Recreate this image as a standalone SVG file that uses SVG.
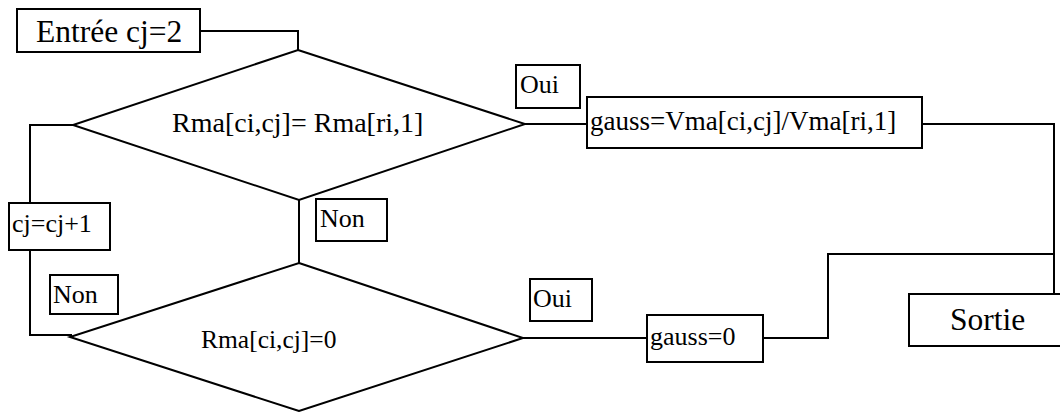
<svg xmlns="http://www.w3.org/2000/svg" width="1060" height="412" viewBox="0 0 1060 412">
<style>
.s{fill:#fff;stroke:#000;stroke-width:2}
.c{fill:none;stroke:#000;stroke-width:2}
text{font-family:"Liberation Serif","Times New Roman",serif;fill:#000}
.b{font-size:31.5px}
.m{font-size:26px}
</style>
<g id="connectors">
<polyline class="c" points="200,31 298,31 298,50"/>
<polyline class="c" points="525,124 587,124"/>
<polyline class="c" points="922,124 1054,124 1054,294"/>
<polyline class="c" points="73,125 30,125 30,203"/>
<polyline class="c" points="30,250 30,335 72,335"/>
<polyline class="c" points="299,200 299,263"/>
<polyline class="c" points="523,338 647,338"/>
<polyline class="c" points="763,338 828,338 828,254 1054,254"/>
</g>
<g id="entree"><rect class="s" x="17" y="9" width="183" height="43"/><text class="b" x="36" y="42">Entrée cj=2</text></g>
<g id="cond1"><polygon class="s" points="298,50 525,124 299,200 73,125"/><text class="m" x="172" y="132" style="font-size:28px">Rma[ci,cj]= Rma[ri,1]</text></g>
<g id="oui1"><rect class="s" x="516" y="65" width="64" height="43"/><text class="m" x="520" y="93">Oui</text></g>
<g id="gauss1"><rect class="s" x="587" y="97" width="335" height="51"/><text class="m" x="590" y="130" style="font-size:27px">gauss=Vma[ci,cj]/Vma[ri,1]</text></g>
<g id="incr"><rect class="s" x="9" y="203" width="101" height="47"/><text class="m" x="12" y="232">cj=cj+1</text></g>
<g id="non1"><rect class="s" x="316" y="199" width="71" height="42"/><text class="m" x="320" y="227">Non</text></g>
<g id="non2"><rect class="s" x="50" y="275" width="68" height="39"/><text class="m" x="53" y="303">Non</text></g>
<g id="cond2"><polygon class="s" points="299,263 523,338 299,411 70,337"/><text class="m" x="201" y="348" style="font-size:25.5px">Rma[ci,cj]=0</text></g>
<g id="oui2"><rect class="s" x="530" y="279" width="62" height="42"/><text class="m" x="533" y="307">Oui</text></g>
<g id="gauss0"><rect class="s" x="647" y="315" width="116" height="47"/><text class="m" x="650" y="345">gauss=0</text></g>
<g id="sortie"><rect class="s" x="909" y="294" width="153" height="52"/><text class="b" x="950" y="330">Sortie</text></g>
</svg>
